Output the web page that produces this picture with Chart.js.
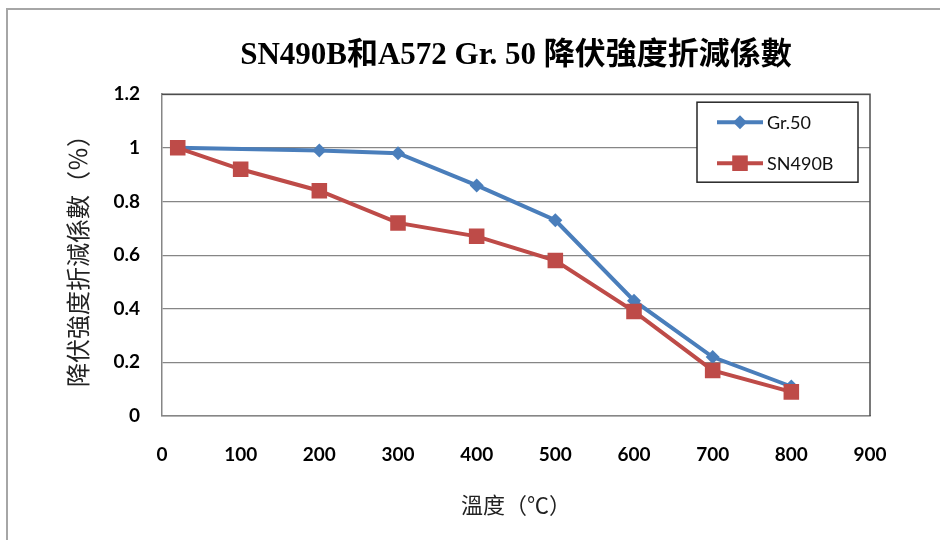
<!DOCTYPE html>
<html>
<head>
<meta charset="utf-8">
<script src="https://cdn.jsdelivr.net/npm/chart.js@4/dist/chart.umd.min.js"></script>
<style>
  html, body { margin: 0; padding: 0; background: #fff; }
  #wrap { width: 940px; height: 540px; }
</style>
</head>
<body>
<div id="wrap"><canvas id="c" width="940" height="540"></canvas></div>
<script>
// ---- data ----
const chartTitle = 'SN490B和A572 Gr. 50 降伏強度折減係數';
const xAxisTitle = '溫度（℃）';
const yAxisTitle = '降伏強度折減係數（％）';
const seriesNames = ['Gr.50', 'SN490B'];
const temperaturesGr50 = [20, 200, 300, 400, 500, 600, 700, 800];
const factorsGr50 = [1.00, 0.99, 0.98, 0.86, 0.73, 0.43, 0.22, 0.11];
const temperaturesSN490B = [20, 100, 200, 300, 400, 500, 600, 700, 800];
const factorsSN490B = [1.00, 0.92, 0.84, 0.72, 0.67, 0.58, 0.39, 0.17, 0.09];
const xTickValues = [0, 100, 200, 300, 400, 500, 600, 700, 800, 900];
const yTickValues = [0, 0.2, 0.4, 0.6, 0.8, 1, 1.2];

const BLUE = '#4a7ebb';
const RED = '#be4b48';
const tickFont = { family: "Lato, 'Open Sans', sans-serif", size: 19, weight: 'bold' };
const cjkFont = "'Liberation Serif', 'Noto Sans CJK TC', serif";

const toPoints = (xs, ys) => xs.map((x, i) => ({ x: x, y: ys[i] }));

const framePlugin = {
  id: 'frame',
  beforeDraw(chart) {
    const ctx = chart.ctx;
    ctx.save();
    ctx.fillStyle = '#fff';
    ctx.fillRect(0, 0, chart.width, chart.height);
    ctx.strokeStyle = '#a6a6a6';
    ctx.lineWidth = 2;
    ctx.beginPath();
    ctx.moveTo(7, chart.height + 2);
    ctx.lineTo(7, 9);
    ctx.lineTo(chart.width + 2, 9);
    ctx.stroke();
    ctx.restore();
  },
  beforeDatasetsDraw(chart) {
    const { ctx, chartArea: a } = chart;
    ctx.save();
    ctx.strokeStyle = '#4d4d4d';
    ctx.lineWidth = 1.5;
    ctx.beginPath();
    ctx.moveTo(a.left, a.top);
    ctx.lineTo(a.right, a.top);
    ctx.lineTo(a.right, a.bottom);
    ctx.stroke();
    ctx.restore();
  }
};

function drawMarker(ctx, style, r, x, y) {
  ctx.beginPath();
  if (style === 'rect') {
    const s = r * Math.SQRT1_2;
    ctx.rect(x - s, y - s, 2 * s, 2 * s);
  } else {
    ctx.moveTo(x, y - r);
    ctx.lineTo(x + r, y);
    ctx.lineTo(x, y + r);
    ctx.lineTo(x - r, y);
    ctx.closePath();
  }
  ctx.fill();
}

const legendPlugin = {
  id: 'boxLegend',
  afterDraw(chart) {
    const { ctx, chartArea: a } = chart;
    const w = 161, h = 80;
    const x0 = a.right - 173, y0 = a.top + 8;
    ctx.save();
    ctx.fillStyle = '#fff';
    ctx.fillRect(x0, y0, w, h);
    ctx.strokeStyle = '#262626';
    ctx.lineWidth = 1.5;
    ctx.strokeRect(x0, y0, w, h);
    chart.data.datasets.forEach((ds, i) => {
      const cy = y0 + 20 + i * 41;
      const lx = x0 + 20, rx = x0 + 66;
      ctx.strokeStyle = ds.borderColor;
      ctx.lineWidth = ds.borderWidth;
      ctx.beginPath();
      ctx.moveTo(lx, cy);
      ctx.lineTo(rx, cy);
      ctx.stroke();
      ctx.fillStyle = ds.borderColor;
      drawMarker(ctx, ds.pointStyle, ds.pointRadius, (lx + rx) / 2, cy);
      ctx.fillStyle = '#111';
      ctx.font = "18px Lato, 'Open Sans', sans-serif";
      ctx.textAlign = 'left';
      ctx.textBaseline = 'middle';
      ctx.fillText(ds.label, rx + 4, cy + 1);
    });
    ctx.restore();
  }
};

new Chart(document.getElementById('c'), {
  type: 'line',
  data: {
    datasets: [
      {
        label: seriesNames[0],
        data: toPoints(temperaturesGr50, factorsGr50),
        borderColor: BLUE,
        backgroundColor: BLUE,
        borderWidth: 4,
        pointStyle: 'rectRot',
        pointRadius: 7,
        pointBorderWidth: 0,
        pointBackgroundColor: BLUE,
        order: 1
      },
      {
        label: seriesNames[1],
        data: toPoints(temperaturesSN490B, factorsSN490B),
        borderColor: RED,
        backgroundColor: RED,
        borderWidth: 4,
        pointStyle: 'rect',
        pointRadius: 11,
        pointBorderWidth: 0,
        pointBackgroundColor: RED,
        order: 0
      }
    ]
  },
  options: {
    responsive: false,
    animation: false,
    events: [],
    layout: { padding: { left: 0, right: 70, top: 0, bottom: 0 } },
    plugins: {
      legend: { display: false },
      tooltip: { enabled: false },
      title: {
        display: true,
        text: chartTitle,
        fullSize: false,
        color: '#000',
        font: { family: cjkFont, size: 31, weight: 'bold' },
        padding: { top: 37, bottom: 20 }
      }
    },
    scales: {
      x: {
        type: 'linear',
        min: xTickValues[0],
        max: xTickValues[xTickValues.length - 1],
        afterBuildTicks: (s) => { s.ticks = xTickValues.map(v => ({ value: v })); },
        afterFit: (s) => { s.height = 124; },
        grid: { display: false, drawTicks: false },
        border: { display: true, color: '#868686', width: 1.5 },
        ticks: { color: '#000', font: tickFont, padding: 27 },
        title: {
          display: true,
          text: xAxisTitle,
          color: '#222',
          font: { family: cjkFont, size: 22 },
          padding: { top: 0, bottom: 20 }
        }
      },
      y: {
        min: yTickValues[0],
        max: yTickValues[yTickValues.length - 1],
        afterBuildTicks: (s) => { s.ticks = yTickValues.map(v => ({ value: v })); },
        afterFit: (s) => { s.width = 162; },
        grid: { color: '#868686', lineWidth: 1.2, drawTicks: false },
        border: { display: true, color: '#868686', width: 1.5 },
        ticks: {
          color: '#000',
          font: tickFont,
          padding: 22,
          callback: (v) => String(parseFloat(Number(v).toFixed(1)))
        },
        title: {
          display: true,
          text: yAxisTitle,
          color: '#222',
          font: { family: cjkFont, size: 24 },
          padding: { top: 66, bottom: 0 }
        }
      }
    }
  },
  plugins: [framePlugin, legendPlugin]
});
</script>
</body>
</html>
